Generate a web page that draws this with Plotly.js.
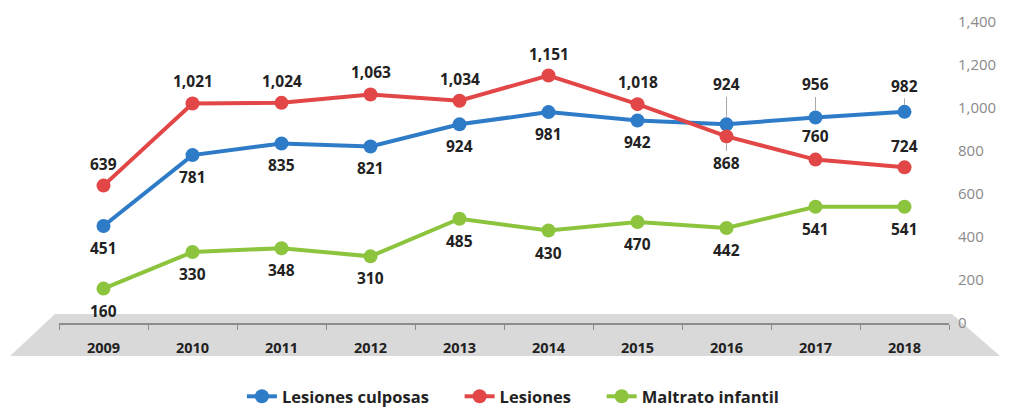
<!DOCTYPE html>
<html>
<head>
<meta charset="utf-8">
<script src="https://cdn.plot.ly/plotly-3.0.1.min.js"></script>
<style>html,body{margin:0;padding:0;background:#fff;}#chart{width:1010px;height:408px;}</style>
</head>
<body>
<div id="chart"></div>
<script>
var years = ['2009','2010','2011','2012','2013','2014','2015','2016','2017','2018'];
var culposas = [451, 781, 835, 821, 924, 981, 942, 924, 956, 982];
var lesiones = [639, 1021, 1024, 1063, 1034, 1151, 1018, 868, 760, 724];
var maltrato = [160, 330, 348, 310, 485, 430, 470, 442, 541, 541];
var seriesNames = ['Lesiones culposas', 'Lesiones', 'Maltrato infantil'];

// label offsets in pixels (negative = above the point)
var culposasLabelOff = [22, 22, 22, 22, 22, 22, 22, -40, -33, -26];
var lesionesLabelOff = [-22, -22, -22, -22, -22, -22, -22, 27, -24, -21];
var maltratoLabelOff = [22, 22, 22, 22, 22, 22, 22, 22, 22, 22];
var leader = {culposas: [7, 8, 9], lesiones: [7], maltrato: []};

var colors = ['#2e7cc8', '#e24646', '#8cc43e'];
var allSeries = [culposas, lesiones, maltrato];
var allOffsets = [culposasLabelOff, lesionesLabelOff, maltratoLabelOff];
var leaderKeys = ['culposas', 'lesiones', 'maltrato'];
var FONT = 'Open Sans, Lato, sans-serif';
var GAP = '\u00a0\u00a0\u00a0\u00a0\u00a0\u00a0';

var traces = allSeries.map(function (vals, i) {
  return {
    type: 'scatter', mode: 'lines+markers', x: years, y: vals,
    name: seriesNames[i] + (i < allSeries.length - 1 ? GAP : ''),
    line: {color: colors[i], width: 4},
    marker: {color: colors[i], size: 14},
    cliponaxis: false
  };
});

var fmt = function (v) { return v.toLocaleString('en-US'); };
var labelFont = {family: FONT, size: 15.5, color: '#222', weight: 'bold'};
var annotations = [];
allSeries.forEach(function (vals, i) {
  vals.forEach(function (v, j) {
    var off = allOffsets[i][j];
    var isLeader = leader[leaderKeys[i]].indexOf(j) >= 0;
    if (isLeader) {
      annotations.push({
        x: j, y: v, xref: 'x', yref: 'y', text: fmt(v),
        showarrow: true, arrowhead: 0, arrowwidth: 1, arrowcolor: '#a8a8a8',
        ax: 0, ay: off, standoff: 7, font: labelFont
      });
    } else {
      annotations.push({
        x: j, y: v, xref: 'x', yref: 'y', text: fmt(v),
        showarrow: false, yshift: -off, font: labelFont
      });
    }
  });
});

var layout = {
  width: 1010, height: 408,
  margin: {l: 59, r: 61, t: 21.5, b: 85},
  paper_bgcolor: '#fff', plot_bgcolor: 'rgba(0,0,0,0)',
  showlegend: true,
  legend: {
    orientation: 'h', x: 0.51, xanchor: 'center',
    yref: 'container', y: 0.028, yanchor: 'middle',
    font: {family: FONT, size: 16.5, color: '#222', weight: 'bold'},
    itemwidth: 30, tracegroupgap: 0
  },
  xaxis: {
    type: 'category', range: [-0.5, 9.5], showgrid: false, zeroline: false,
    showline: true, linecolor: '#8c8c8c', linewidth: 1.5,
    ticks: 'outside', tickson: 'boundaries', ticklen: 5, tickcolor: '#8c8c8c', tickwidth: 1,
    ticklabelstandoff: 11, automargin: false,
    tickfont: {family: FONT, size: 14.5, color: '#222', weight: 'bold'},
    fixedrange: true
  },
  yaxis: {
    side: 'right', range: [0, 1400], dtick: 200, tickformat: ',',
    showgrid: false, zeroline: false, showline: false, ticks: '',
    ticklabelstandoff: 8, automargin: false,
    tickfont: {family: FONT, size: 15, color: '#8a8a8a'},
    fixedrange: true
  },
  shapes: [{
    type: 'path', xref: 'paper', yref: 'paper', layer: 'below',
    path: 'M -0.0045 0.0299 L 1.0034 0.0299 L 1.0573 -0.1095 L -0.055 -0.1095 Z',
    fillcolor: '#d9d9d9', line: {width: 0}
  }],
  annotations: annotations
};

Plotly.newPlot('chart', traces, layout, {displayModeBar: false, staticPlot: true});
</script>
</body>
</html>
